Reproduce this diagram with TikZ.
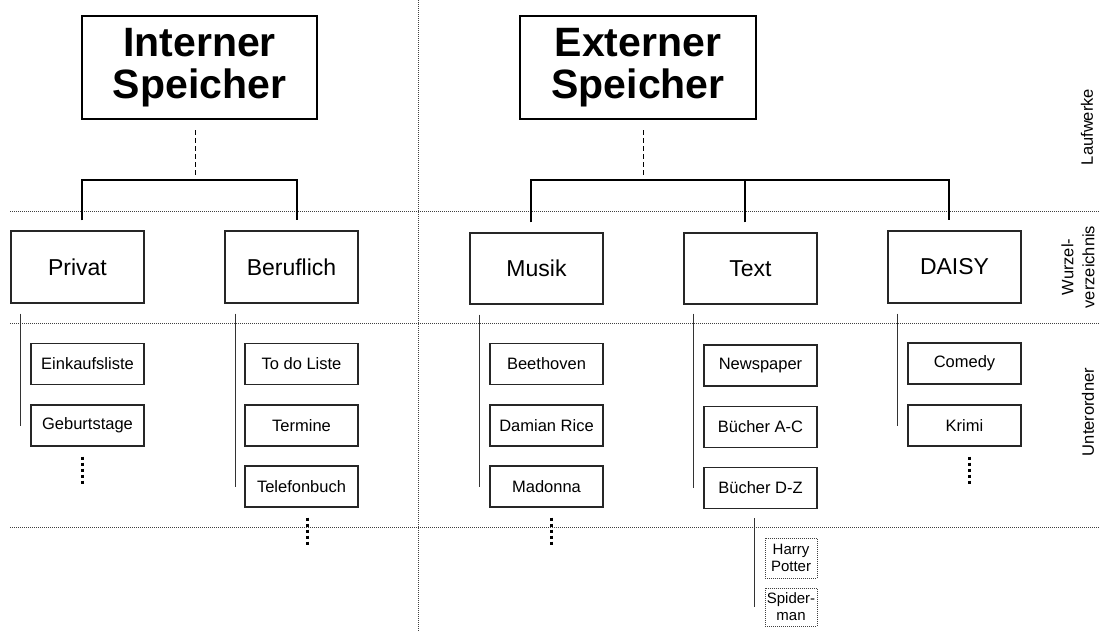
\documentclass[tikz,border=0pt]{standalone}
\usepackage{fontspec}
\setmainfont{Liberation Sans}
\begin{document}
\begin{tikzpicture}[x=1pt,y=-1pt,
  titlebox/.style={draw=black,line width=2.6pt,minimum width=235pt,minimum height=103pt,inner sep=0pt,align=center,font=\fontsize{41}{42}\selectfont\bfseries},
  lvlbox/.style={draw=black!85,line width=1.3pt,minimum width=133pt,minimum height=72pt,inner sep=0pt,font=\fontsize{23}{26}\selectfont},
  subbox/.style={draw=black!85,line width=1.3pt,minimum width=113pt,minimum height=41pt,inner sep=0pt,font=\fontsize{16.5}{19}\selectfont},
  leafbox/.style={draw=black!75,line width=0.8pt,dash pattern=on 1pt off 1pt,minimum width=52pt,inner sep=0pt,align=center,font=\fontsize{15}{17}\selectfont},
  conn/.style={draw=black,line width=1.2pt},
  dashline/.style={draw=black,line width=1pt,dash pattern=on 5pt off 3pt},
  subline/.style={draw=black!80,line width=1.2pt},
  vdots/.style={draw=black,line width=3pt,dash pattern=on 3pt off 3pt},
  divider/.style={draw=black!75,line width=0.9pt,dash pattern=on 1pt off 1pt},
  sidelabel/.style={rotate=90,align=center,font=\fontsize{16.5}{21}\selectfont}
]
\useasboundingbox (0,0) rectangle (1099,632);

% dividers
\draw[divider] (418,0) -- (418,632);
\draw[divider] (10,211) -- (1099,211);
\draw[divider] (10,323) -- (1099,323);
\draw[divider] (10,527) -- (1099,527);

% side labels
\node[sidelabel] (lw) at (1087,127) {Laufwerke};
\node[sidelabel] (wv) at (1078,267) {Wurzel-\\verzeichnis};
\node[sidelabel] (uo) at (1088,412) {Unterordner};

% title boxes
\node[titlebox] (int) at (199.5,67.5) {Interner\\Speicher};
\node[titlebox,minimum width=236pt] (ext) at (638,67.5) {Externer\\Speicher};

% root folders
\node[lvlbox] (priv) at (77.5,267) {Privat};
\node[lvlbox] (beru) at (291.5,267) {Beruflich};
\node[lvlbox,minimum height=71pt] (mus) at (536.5,268.5) {Musik};
\node[lvlbox,minimum height=71pt] (txt) at (750.5,268.5) {Text};
\node[lvlbox] (dai) at (954.5,267) {DAISY};

% subfolders
\node[subbox] (eink) at (87.5,364) {Einkaufsliste};
\node[subbox] (geb) at (87.5,425.5) {Geburtstage};
\node[subbox] (todo) at (301.5,364) {To do Liste};
\node[subbox] (term) at (301.5,425.5) {Termine};
\node[subbox] (tel) at (301.5,486.5) {Telefonbuch};
\node[subbox] (bee) at (546.5,364) {Beethoven};
\node[subbox] (dam) at (546.5,425.5) {Damian Rice};
\node[subbox] (mad) at (546.5,486.5) {Madonna};
\node[subbox] (news) at (760.5,365.5) {Newspaper};
\node[subbox] (bac) at (760.5,427) {Bücher A-C};
\node[subbox] (bdz) at (760.5,488) {Bücher D-Z};
\node[subbox] (com) at (964.5,363.5) {Comedy};
\node[subbox] (kri) at (964.5,425.5) {Krimi};

% leaves
\node[leafbox,minimum height=40pt] (hp) at (791,558) {Harry\\Potter};
\node[leafbox,minimum height=38pt] (sp) at (791,607) {Spider-\\man};

% junctions
\coordinate (jI) at (195,180);
\coordinate (jE) at (643,180);

% internal tree
\draw[dashline] ([yshift=-10pt]int.south -| jI) -- ([yshift=3pt]jI);
\draw[conn] ([xshift=4.5pt,yshift=10pt]priv.north) |- (jI) -| ([xshift=5.5pt,yshift=10pt]beru.north);

% external tree
\draw[dashline] ([yshift=-10pt]ext.south -| jE) -- ([yshift=3pt]jE);
\draw[conn] ([xshift=-5.5pt,yshift=10pt]mus.north) |- (jE) -| ([xshift=-5.5pt,yshift=10pt]dai.north);
\draw[conn] ([xshift=-5.5pt,yshift=10pt]txt.north) -- ([xshift=-5.5pt]txt.north |- jE);

% subfolder lines
\draw[subline] ([xshift=10pt,yshift=-10pt]priv.south west) -- ([xshift=-10pt]geb.west);
\draw[subline] ([xshift=11pt,yshift=-10pt]beru.south west) -- ([xshift=-9pt]tel.west);
\draw[subline] ([xshift=10pt,yshift=-10pt]mus.south west) -- ([xshift=-10pt]mad.west);
\draw[subline] ([xshift=10pt,yshift=-9pt]txt.south west) -- ([xshift=-10pt]bdz.west);
\draw[subline] ([xshift=10pt,yshift=-10pt]dai.south west) -- ([xshift=-10pt]kri.west);
\draw[subline] ([xshift=-10pt,yshift=-9pt]hp.west |- bdz.south) -- ([xshift=-10pt]sp.west);

% continuation dots
\draw[vdots] ([xshift=-5.5pt,yshift=-10pt]geb.south) -- ++(0,28);
\draw[vdots] ([xshift=5.5pt,yshift=-10pt]tel.south) -- ++(0,29);
\draw[vdots] ([xshift=4.5pt,yshift=-10pt]mad.south) -- ++(0,29);
\draw[vdots] ([xshift=4.5pt,yshift=-10pt]kri.south) -- ++(0,29);
\end{tikzpicture}
\end{document}
